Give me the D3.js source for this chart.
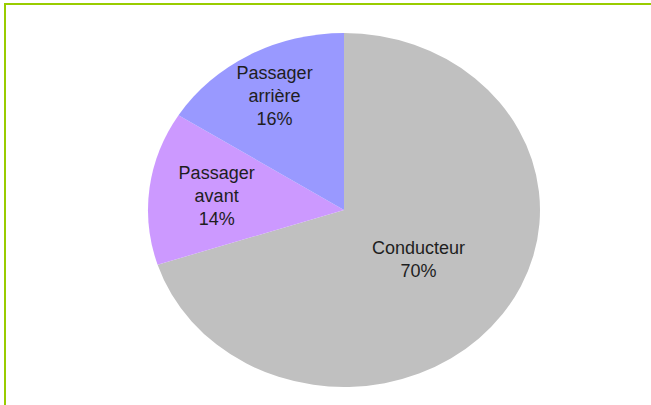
<!DOCTYPE html>
<html>
<head>
<meta charset="utf-8">
<script src="https://cdn.jsdelivr.net/npm/d3@7"></script>
<style>
  html, body { margin: 0; padding: 0; background: #ffffff; }
  svg { display: block; }
</style>
</head>
<body>
<svg id="chart" width="651" height="405"></svg>
<script>
// ---- data ----
const categories = ["Conducteur", "Passager avant", "Passager arrière"];
const labelLines = [["Conducteur"], ["Passager", "avant"], ["Passager", "arrière"]];
const values = [70, 14, 16];

// ---- layout / style ----
const W = 651, H = 405;
const cx = 344, cy = 210;
const ry = 177, rx = 196;
const colors = ["#c0c0c0", "#cc99ff", "#9999ff"];
const labelRadiusFrac = [0.47, 0.655, 0.735];
const fontSize = 18, lineH = 23;

const svg = d3.select("#chart");

// frame (only top and left edges visible)
svg.append("rect")
  .attr("x", 5).attr("y", 4)
  .attr("width", W + 20).attr("height", H + 20)
  .attr("fill", "none")
  .attr("stroke", "#99cc00")
  .attr("stroke-width", 2);

const data = categories.map((c, i) => ({ cat: c, value: values[i], lines: labelLines[i], i }));

const pie = d3.pie().sort(null).value(d => d.value).startAngle(0).endAngle(2 * Math.PI);
const arcs = pie(data);
const arc = d3.arc().innerRadius(0).outerRadius(ry);

const g = svg.append("g")
  .attr("transform", `translate(${cx},${cy}) scale(${rx / ry},1)`);

g.selectAll("path.slice")
  .data(arcs)
  .enter().append("path")
  .attr("class", "slice")
  .attr("d", arc)
  .attr("fill", (d, i) => colors[i])
  .attr("stroke", "none");

// labels
const lg = svg.append("g").attr("transform", `translate(${cx},${cy})`);
arcs.forEach((a, i) => {
  const mid = (a.startAngle + a.endAngle) / 2;
  const r = ry * labelRadiusFrac[i];
  const x = Math.sin(mid) * r * (rx / ry);
  const y = -Math.cos(mid) * r;
  const lines = a.data.lines.concat([d3.format(".0f")(a.data.value) + "%"]);
  const n = lines.length;
  const t = lg.append("text")
    .attr("x", x)
    .attr("y", y)
    .attr("text-anchor", "middle")
    .attr("font-family", "'Liberation Sans', Arial, sans-serif")
    .attr("font-size", fontSize)
    .attr("fill", "#1e1e1e");
  lines.forEach((ln, k) => {
    t.append("tspan")
      .attr("x", x)
      .attr("y", y + (k - (n - 1) / 2) * lineH + fontSize * 0.35)
      .text(ln);
  });
});
</script>
</body>
</html>
